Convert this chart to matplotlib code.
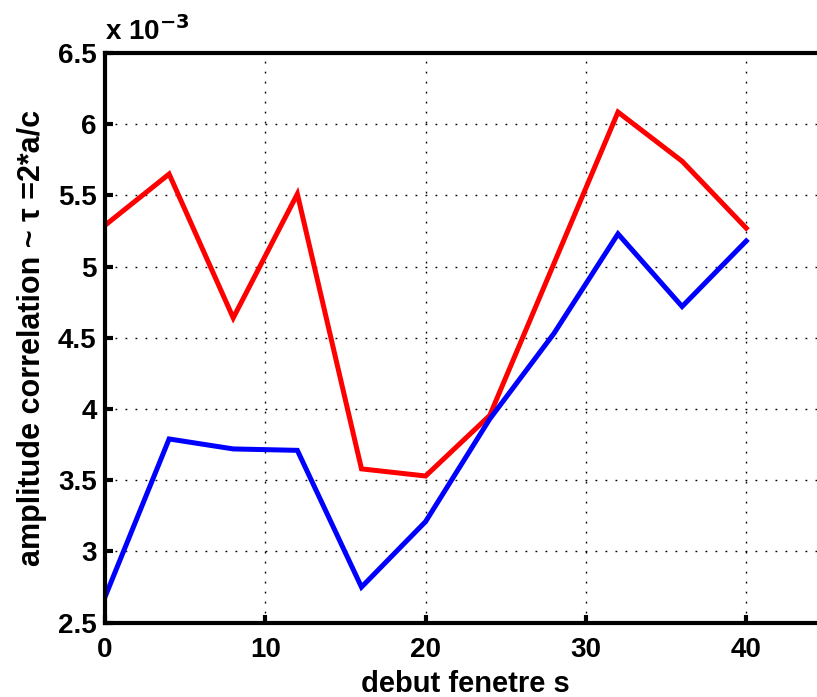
import matplotlib
matplotlib.use('Agg')
import matplotlib.pyplot as plt

# data (values in units of 1e-3)
debut = [0, 4, 8, 12, 16, 20, 24, 28, 32, 36, 40]
red_vals = [5.29, 5.65, 4.64, 5.51, 3.58, 3.53, 3.955, 5.02, 6.085, 5.74, 5.27]
blue_vals = [2.68, 3.79, 3.72, 3.71, 2.75, 3.21, 3.93, 4.53, 5.23, 4.72, 5.18]
xticks = [0, 10, 20, 30, 40]
yticks = [2.5, 3, 3.5, 4, 4.5, 5, 5.5, 6, 6.5]

plt.rcParams['font.family'] = ['Liberation Sans', 'DejaVu Sans']
plt.rcParams['font.weight'] = 'bold'

fig = plt.figure(figsize=(8.17, 6.97), dpi=100)
ax = fig.add_axes([0.1285, 0.1066, 0.883, 0.8174])

ax.plot(debut, red_vals, color='#ff0000', lw=3.6, solid_joinstyle='miter')
ax.plot(debut, blue_vals, color='#0000ff', lw=3.6, solid_joinstyle='miter')

ax.set_xlim(0, 45)
ax.set_ylim(2.5, 6.5)
ax.set_xticks(xticks)
ax.set_yticks(yticks)
ax.set_yticklabels(['2.5', '3', '3.5', '4', '4.5', '5', '5.5', '6', '6.5'])

ax.grid(True, color='black', linestyle=(0, (1.3, 5.9)), lw=1.0)
for s in ax.spines.values():
    s.set_linewidth(3)
ax.tick_params(direction='in', length=6, width=3, labelsize=20,
               top=False, right=False)
ax.tick_params(axis='x', pad=10)
ax.tick_params(axis='y', pad=6)
for lbl in ax.get_xticklabels() + ax.get_yticklabels():
    lbl.set_fontweight('bold')

ax.set_xlabel('debut fenetre s', fontsize=21, fontweight='bold', labelpad=5)
ax.set_ylabel('amplitude correlation ~ \u03c4 =2*a/c', fontsize=22,
              fontweight='bold', labelpad=8)
ax.text(0.0, 1.012, r'x 10$^{\mathbf{-3}}$', transform=ax.transAxes,
        fontsize=20, fontweight='bold', ha='left', va='bottom')

fig.savefig('out.png', dpi=100)
